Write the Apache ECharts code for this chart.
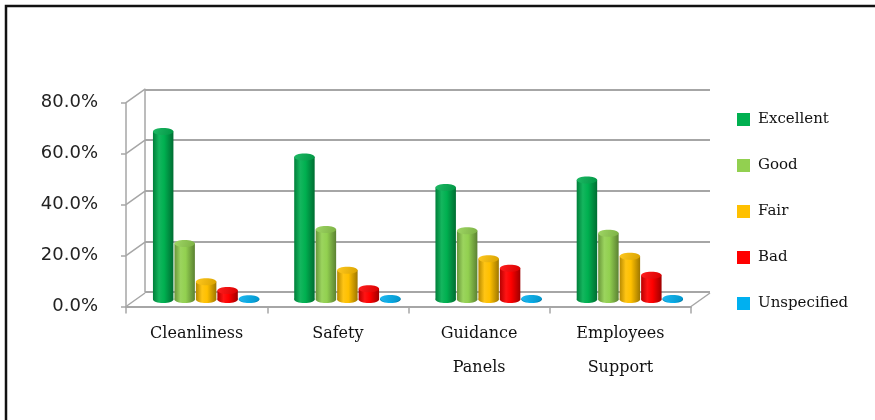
<!DOCTYPE html>
<html>
<head>
<meta charset="utf-8">
<script src="https://cdn.jsdelivr.net/npm/echarts@6/dist/echarts.min.js"></script>
<style>
  html, body { margin: 0; padding: 0; background: #fff; }
  #chart { width: 875px; height: 420px; }
</style>
</head>
<body>
<div id="chart"></div>
<script>
const categories = ["Cleanliness", "Safety", "Guidance\nPanels", "Employees\nSupport"];
const seriesNames = ["Excellent", "Good", "Fair", "Bad", "Unspecified"];
const excellent = [66, 56, 44, 47];
const good = [22, 27.5, 27, 26];
const fair = [7, 11.5, 16, 17];
const bad = [3.5, 4.2, 12.3, 9.5];
const unspecified = [0.3, 0.4, 0.4, 0.4];
const yTicks = [0, 20, 40, 60, 80];
const colors = ["#00b050", "#92d050", "#ffc000", "#ff0000", "#00b0f0"];

const allValues = [excellent, good, fair, bad, unspecified];

// depth offset between front axis plane and back wall
const DX = 19, DY = -13.5;

const shade = (hex, f) => {
    const n = parseInt(hex.slice(1), 16);
    const ch = [(n >> 16) & 255, (n >> 8) & 255, n & 255].map(c => {
        const v = f < 1 ? c * f : c + (255 - c) * (f - 1);
        return Math.max(0, Math.min(255, Math.round(v)));
    });
    return "rgb(" + ch.join(",") + ")";
};

const cylinder = (idx) => (params, api) => {
    const cat = api.value(0);
    const val = api.value(1);
    const band = api.size([1, 0])[0];
    const barW = band * 0.76 / 5;
    const center = api.coord([cat, 0])[0];
    const x = center - band * 0.38 + idx * barW;
    const yBot = api.coord([cat, 0])[1];
    const yTop = api.coord([cat, val])[1];
    const rx = barW / 2 - 0.5, ry = 3.5;
    const base = colors[idx];
    const bodyFill = new echarts.graphic.LinearGradient(0, 0, 1, 0, [
        { offset: 0, color: shade(base, 0.72) },
        { offset: 0.3, color: shade(base, 1.08) },
        { offset: 0.55, color: base },
        { offset: 1, color: shade(base, 0.62) }
    ]);
    const topFill = new echarts.graphic.LinearGradient(0, 0, 1, 1, [
        { offset: 0, color: shade(base, 1.12) },
        { offset: 1, color: shade(base, 0.85) }
    ]);
    const cx = x + barW / 2;
    return {
        type: "group",
        children: [
            { type: "ellipse", shape: { cx: cx, cy: yBot, rx: rx, ry: ry }, style: { fill: bodyFill } },
            { type: "rect", shape: { x: cx - rx, y: yTop, width: rx * 2, height: Math.max(0, yBot - yTop) }, style: { fill: bodyFill } },
            { type: "ellipse", shape: { cx: cx, cy: yTop, rx: rx, ry: ry }, style: { fill: topFill } }
        ]
    };
};

const diagonals = (params, api) => {
    const cs = params.coordSys;
    const v = api.value(0);
    const y = api.coord([0, v])[1];
    const lines = [{
        type: "line",
        shape: { x1: cs.x, y1: y, x2: cs.x + DX, y2: y + DY },
        style: { stroke: "#a6a6a6", lineWidth: 1.5 }
    }];
    if (v === 0) {
        lines.push({
            type: "line",
            shape: { x1: cs.x + cs.width, y1: y, x2: cs.x + cs.width + DX, y2: y + DY },
            style: { stroke: "#a6a6a6", lineWidth: 1.5 }
        });
    }
    return { type: "group", children: lines };
};

const axisFont = { fontFamily: "DejaVu Sans", fontSize: 18, color: "#222" };

const option = {
    animation: false,
    backgroundColor: "#fff",
    graphic: [{
        type: "rect",
        shape: { x: 6, y: 6, width: 1000, height: 600 },
        style: { fill: "none", stroke: "#111", lineWidth: 2.5 },
        z: 100
    }],
    legend: {
        orient: "vertical",
        left: 737,
        top: 112,
        itemWidth: 13,
        itemHeight: 13,
        itemGap: 31,
        padding: 0,
        textStyle: { fontFamily: "DejaVu Serif", fontSize: 15, color: "#111", padding: [0, 0, 0, 3] },
        data: seriesNames.map(n => ({ name: n, icon: "rect" }))
    },
    grid: [
        // back wall
        { left: 145, right: 165, top: 89.3, bottom: 128 },
        // front axis plane
        { left: 126, right: 184, top: 102.7, bottom: 113.5 },
        // bar plane (mid depth)
        { left: 135.5, right: 174.5, top: 96, bottom: 120.5 }
    ],
    xAxis: [
        { gridIndex: 0, type: "category", data: categories, show: false },
        {
            gridIndex: 1, type: "category", data: categories,
            axisLine: { lineStyle: { color: "#a6a6a6", width: 2 } },
            axisTick: { show: true, length: 7, lineStyle: { color: "#a6a6a6", width: 1.5 } },
            axisLabel: Object.assign({ margin: 10, lineHeight: 34, fontFamily: "DejaVu Serif", fontSize: 16, color: "#111" })
        },
        { gridIndex: 2, type: "category", data: categories, show: false }
    ],
    yAxis: [
        {
            gridIndex: 0, type: "value", min: 0, max: 80, interval: 20,
            axisLine: { show: true, lineStyle: { color: "#a6a6a6", width: 1.5 } },
            axisTick: { show: false },
            axisLabel: { show: false },
            splitLine: { lineStyle: { color: "#a6a6a6", width: 2 } }
        },
        {
            gridIndex: 1, type: "value", min: 0, max: 80, interval: 20,
            axisLine: { show: true, lineStyle: { color: "#a6a6a6", width: 1.5 } },
            axisTick: { show: true, length: 5, lineStyle: { color: "#a6a6a6", width: 1.5 } },
            axisLabel: Object.assign({ margin: 28, formatter: v => v.toFixed(1) + "%" }, axisFont),
            splitLine: { show: false }
        },
        { gridIndex: 2, type: "value", min: 0, max: 80, show: false, splitLine: { show: false } }
    ],
    series: [
        {
            type: "custom",
            name: "diag",
            xAxisIndex: 1, yAxisIndex: 1,
            renderItem: diagonals,
            data: yTicks.map(v => [v]),
            encode: { y: 0 },
            silent: true,
            z: 1
        }
    ].concat(seriesNames.map((name, idx) => ({
        type: "custom",
        name: name,
        xAxisIndex: 2, yAxisIndex: 2,
        itemStyle: { color: colors[idx] },
        renderItem: cylinder(idx),
        data: allValues[idx].map((v, i) => [i, v]),
        encode: { x: 0, y: 1 },
        z: 5
    })))
};

const chart = echarts.init(document.getElementById("chart"));
chart.setOption(option);
</script>
</body>
</html>
